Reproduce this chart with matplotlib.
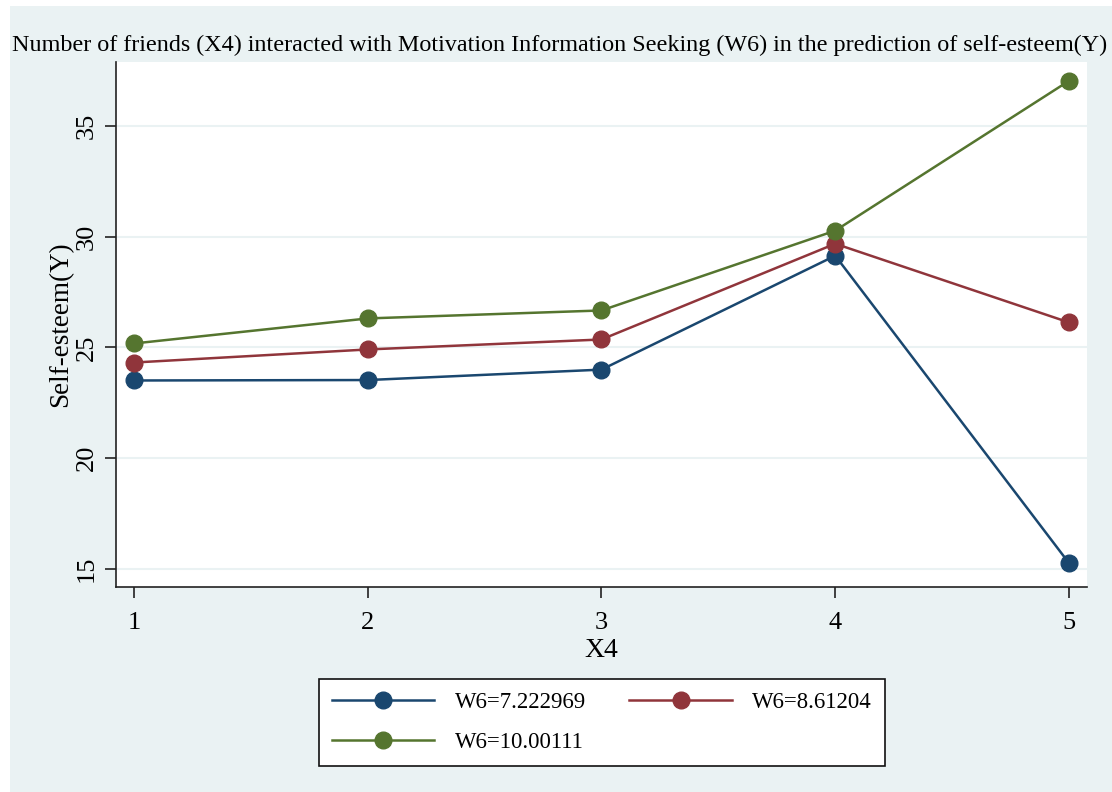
import matplotlib.pyplot as plt
from matplotlib.patches import Rectangle

# ========= data ================================
x4 = [1, 2, 3, 4, 5]
w6_low = [23.51, 23.53, 24.00, 29.14, 15.27]    # W6=7.222969
w6_mid = [24.32, 24.91, 25.36, 29.68, 26.13]    # W6=8.61204
w6_high = [25.18, 26.31, 26.67, 30.27, 37.03]   # W6=10.00111
labels = ['W6=7.222969', 'W6=8.61204', 'W6=10.00111']
y_ticks = [15, 20, 25, 30, 35]

# ========= style ================================
plt.rcParams['font.family'] = ['Liberation Serif', 'DejaVu Serif']
bg = '#eaf2f3'
colors = ['#1a476f', '#90353b', '#55752f']


def main():
    fig = plt.figure(figsize=(11.12, 7.92), dpi=100, facecolor='white')
    # screenshot border: white strip left and top
    fig.patches.append(Rectangle((10 / 1112, 0), 1, 1 - 6 / 792, transform=fig.transFigure,
                                 facecolor=bg, edgecolor='none', zorder=-10))
    ax = fig.add_axes([0.1043, 0.2588, 0.8732, 0.6629])
    ax.set_facecolor('white')

    lines = []
    for ys, c, lab in zip([w6_low, w6_mid, w6_high], colors, labels):
        ln, = ax.plot(x4, ys, '-o', color=c, lw=1.8, markersize=12, label=lab, zorder=3)
        lines.append(ln)

    ax.set_xlim(0.923, 5.077)
    ax.set_ylim(14.19, 37.88)
    ax.set_xticks(x4)
    ax.set_yticks(y_ticks)
    ax.grid(axis='y', color=bg, lw=1.5, zorder=0)
    ax.set_axisbelow(True)

    for s in ['top', 'right']:
        ax.spines[s].set_visible(False)
    for s in ['left', 'bottom']:
        ax.spines[s].set_color('#222222')
        ax.spines[s].set_linewidth(1.2)
    ax.tick_params(axis='both', direction='out', length=8, width=1.2, color='#222222',
                   labelsize=19)
    ax.tick_params(axis='x', pad=10)
    ax.tick_params(axis='y', pad=5)
    for t in ax.get_yticklabels():
        t.set_rotation(90)
        t.set_va('center')

    ax.set_xlabel('X4', fontsize=20, labelpad=3)
    ax.set_ylabel('Self-esteem(Y)', fontsize=19.5, labelpad=2)
    fig.text(0.5035, 0.943, 'Number of friends (X4) interacted with Motivation Information Seeking (W6) '
             'in the prediction of self-esteem(Y)', ha='center', va='center', fontsize=17.4)

    # legend, row order like stata
    order = [lines[0], lines[2], lines[1]]
    leg = fig.legend(order, [l.get_label() for l in order], ncol=2,
                     loc='center', bbox_to_anchor=(0.5414, 0.0877),
                     fontsize=16.4, frameon=True, fancybox=False, edgecolor='#111111',
                     framealpha=1, handlelength=4.5, columnspacing=1.9, handletextpad=0.9,
                     borderpad=0.55, labelspacing=0.85)
    leg.get_frame().set_linewidth(1.2)

    fig.savefig('out.png', dpi=100, facecolor='white')


if __name__ == "__main__":
    main()
